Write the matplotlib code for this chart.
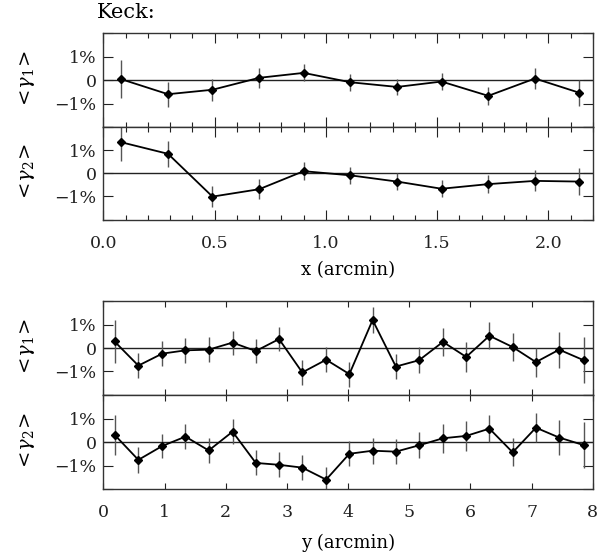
import matplotlib
matplotlib.use("Agg")
import matplotlib.pyplot as plt
from matplotlib.ticker import MultipleLocator

plt.rcParams['font.family'] = ['DejaVu Serif']
plt.rcParams['mathtext.fontset'] = 'dejavuserif'

# Top: shear vs x (arcmin)
x_top = [0.08, 0.29, 0.49, 0.70, 0.90, 1.11, 1.32, 1.52, 1.73, 1.94, 2.14]
g1_top = [0.04, -0.60, -0.41, 0.10, 0.31, -0.09, -0.29, -0.06, -0.67, 0.07, -0.54]
e1_top = [0.81, 0.54, 0.46, 0.43, 0.36, 0.36, 0.34, 0.36, 0.39, 0.44, 0.56]
g2_top = [1.34, 0.84, -1.01, -0.69, 0.09, -0.09, -0.36, -0.67, -0.47, -0.33, -0.36]
e2_top = [0.80, 0.56, 0.45, 0.43, 0.38, 0.36, 0.36, 0.37, 0.39, 0.45, 0.57]

# Bottom: shear vs y (arcmin)
x_bot = [0.18, 0.57, 0.96, 1.34, 1.72, 2.11, 2.49, 2.87, 3.25, 3.64, 4.02,
         4.40, 4.78, 5.16, 5.55, 5.93, 6.31, 6.69, 7.07, 7.45, 7.85]
g1_bot = [0.28, -0.75, -0.24, -0.10, -0.07, 0.23, -0.13, 0.38, -1.04, -0.50, -1.11,
          1.19, -0.79, -0.52, 0.26, -0.38, 0.52, 0.04, -0.60, -0.07, -0.52]
e1_bot = [0.90, 0.52, 0.52, 0.53, 0.54, 0.51, 0.52, 0.52, 0.53, 0.53, 0.53,
          0.55, 0.55, 0.56, 0.59, 0.64, 0.57, 0.60, 0.62, 0.77, 0.99]
g2_bot = [0.31, -0.76, -0.17, 0.23, -0.36, 0.44, -0.89, -0.97, -1.09, -1.60, -0.50,
          -0.37, -0.41, -0.14, 0.16, 0.26, 0.57, -0.44, 0.61, 0.19, -0.13]
e2_bot = [0.86, 0.54, 0.53, 0.54, 0.55, 0.54, 0.53, 0.54, 0.54, 0.53, 0.54,
          0.56, 0.54, 0.56, 0.61, 0.63, 0.59, 0.59, 0.61, 0.76, 0.99]

ytick_vals = [-2, -1, 0, 1, 2]
ytick_labels = ['', '\u22121%', '0', '1%', '']

fig = plt.figure(figsize=(6.0, 5.56), dpi=100)
L, W = 0.1725, 0.8155
axes_specs = [
    (0.7716, 0.1685),
    (0.6052, 0.1664),
    (0.2896, 0.1690),
    (0.1205, 0.1690),
]
datasets = [
    (x_top, g1_top, e1_top, r'$<\!\gamma_1\!>$'),
    (x_top, g2_top, e2_top, r'$<\!\gamma_2\!>$'),
    (x_bot, g1_bot, e1_bot, r'$<\!\gamma_1\!>$'),
    (x_bot, g2_bot, e2_bot, r'$<\!\gamma_2\!>$'),
]

axs = []
for i, ((b, h), (xs, ys, es, lab)) in enumerate(zip(axes_specs, datasets)):
    ax = fig.add_axes([L, b, W, h])
    axs.append(ax)
    ax.axhline(0, color='#222222', lw=1.0, zorder=1)
    ax.errorbar(xs, ys, yerr=es, fmt='none', ecolor='#555555', elinewidth=1.0, capsize=0, zorder=2)
    ax.plot(xs, ys, color='black', lw=1.3, marker='D', markersize=4.5, zorder=3)
    ax.set_ylim(-2, 2)
    ax.set_yticks(ytick_vals)
    ax.set_yticklabels(ytick_labels, fontsize=12.5)
    ax.set_ylabel(lab, fontsize=14)
    ax.yaxis.set_label_coords(-0.135, 0.5)
    ax.tick_params(axis='both', which='both', direction='in', top=True, right=True,
                   width=0.8, colors='#222222')
    ax.tick_params(axis='y', which='major', length=7, pad=5)
    ax.tick_params(axis='x', which='major', length=7, pad=11, labelsize=12.5)
    ax.tick_params(axis='x', which='minor', length=3.5)
    for s in ax.spines.values():
        s.set_linewidth(1.0)
        s.set_color('#333333')
    if i < 2:
        ax.set_xlim(0, 2.2)
        ax.xaxis.set_major_locator(MultipleLocator(0.5))
        ax.xaxis.set_minor_locator(MultipleLocator(0.1))
        ax.xaxis.set_major_formatter(matplotlib.ticker.FormatStrFormatter('%.1f'))
    else:
        ax.set_xlim(0, 8)
        ax.xaxis.set_major_locator(MultipleLocator(1))
        ax.tick_params(axis='x', which='major', length=4)
    if i in (0, 2):
        ax.tick_params(axis='x', labelbottom=False)

axs[1].set_xlabel('x (arcmin)', fontsize=13, labelpad=7)
axs[3].set_xlabel('y (arcmin)', fontsize=13, labelpad=9)

fig.text(0.162, 0.977, 'Keck:', fontsize=15, ha='left', va='center')

fig.savefig('out.png', dpi=100)
